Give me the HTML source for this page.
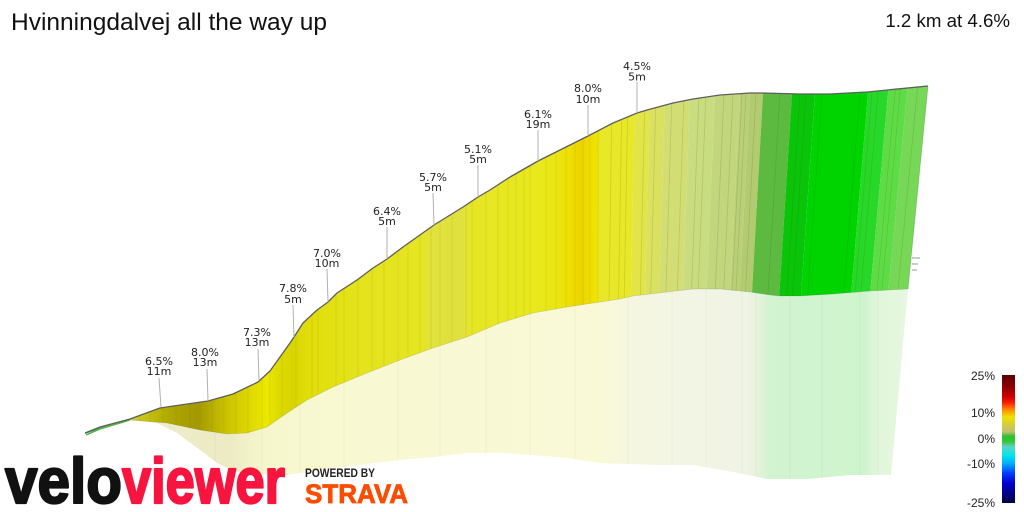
<!DOCTYPE html>
<html>
<head>
<meta charset="utf-8">
<style>
html,body{margin:0;padding:0;background:#fff;}
body{width:1024px;height:512px;overflow:hidden;}
svg{display:block;}
</style>
</head>
<body>
<svg width="1024" height="512" viewBox="0 0 1024 512" xmlns="http://www.w3.org/2000/svg">
<defs>
  <linearGradient id="gf" gradientUnits="userSpaceOnUse" x1="0" y1="0" x2="1024" y2="0">
    <stop offset="0" stop-color="#3c9c3c"/>
    <stop offset="0.0977" stop-color="#50a848"/>
    <stop offset="0.1152" stop-color="#b8c050"/>
    <stop offset="0.127" stop-color="#ccc83c"/>
    <stop offset="0.1416" stop-color="#c8c418"/>
    <stop offset="0.1543" stop-color="#bcb600"/>
    <stop offset="0.166" stop-color="#b0a800"/>
    <stop offset="0.1807" stop-color="#a89e00"/>
    <stop offset="0.1924" stop-color="#a49800"/>
    <stop offset="0.2021" stop-color="#b0a600"/>
    <stop offset="0.2129" stop-color="#c0b800"/>
    <stop offset="0.2266" stop-color="#d0c800"/>
    <stop offset="0.2402" stop-color="#dcd400"/>
    <stop offset="0.252" stop-color="#e6e000"/>
    <stop offset="0.2617" stop-color="#ebe800"/>
    <stop offset="0.2715" stop-color="#dedb00"/>
    <stop offset="0.2852" stop-color="#d8d400"/>
    <stop offset="0.2979" stop-color="#e0dc08"/>
    <stop offset="0.3174" stop-color="#e2e010"/>
    <stop offset="0.3516" stop-color="#e4e31c"/>
    <stop offset="0.4102" stop-color="#e6e522"/>
    <stop offset="0.4219" stop-color="#e2e23c"/>
    <stop offset="0.4512" stop-color="#e0e03e"/>
    <stop offset="0.4609" stop-color="#e6e626"/>
    <stop offset="0.5273" stop-color="#e8e81c"/>
    <stop offset="0.5469" stop-color="#ece410"/>
    <stop offset="0.5586" stop-color="#eedc00"/>
    <stop offset="0.5684" stop-color="#ecd400"/>
    <stop offset="0.5801" stop-color="#efe200"/>
    <stop offset="0.5908" stop-color="#eae822"/>
    <stop offset="1" stop-color="#eae822"/>
  </linearGradient>
  <linearGradient id="gp" gradientUnits="userSpaceOnUse" x1="0" y1="0" x2="1024" y2="0">
    <stop offset="0" stop-color="#e8f4e0"/>
    <stop offset="0.1172" stop-color="#eef2d8"/>
    <stop offset="0.1367" stop-color="#eeeccc"/>
    <stop offset="0.2246" stop-color="#ecebc4"/>
    <stop offset="0.2559" stop-color="#f6f6cc"/>
    <stop offset="0.293" stop-color="#f8f8d0"/>
    <stop offset="0.5859" stop-color="#f9f9d8"/>
    <stop offset="0.625" stop-color="#f4f6e2"/>
    <stop offset="0.7275" stop-color="#f0f4e4"/>
    <stop offset="0.7402" stop-color="#e6f2dc"/>
    <stop offset="0.752" stop-color="#d2f3d0"/>
    <stop offset="0.8447" stop-color="#cef4ce"/>
    <stop offset="0.8545" stop-color="#e0f6da"/>
    <stop offset="0.8887" stop-color="#e6f8e0"/>
    <stop offset="1" stop-color="#e6f8e0"/>
  </linearGradient>
  <linearGradient id="gl" x1="0" y1="0" x2="0" y2="1">
    <stop offset="0" stop-color="#5a0000"/>
    <stop offset="0.094" stop-color="#900000"/>
    <stop offset="0.172" stop-color="#d00000"/>
    <stop offset="0.219" stop-color="#ff2000"/>
    <stop offset="0.273" stop-color="#ff9000"/>
    <stop offset="0.328" stop-color="#f0e000"/>
    <stop offset="0.39" stop-color="#d4cc40"/>
    <stop offset="0.445" stop-color="#c0c070"/>
    <stop offset="0.477" stop-color="#30c030"/>
    <stop offset="0.516" stop-color="#30c830"/>
    <stop offset="0.5625" stop-color="#60d0c8"/>
    <stop offset="0.625" stop-color="#00e8e8"/>
    <stop offset="0.6875" stop-color="#00b0ff"/>
    <stop offset="0.766" stop-color="#0040ff"/>
    <stop offset="0.844" stop-color="#0000d0"/>
    <stop offset="1" stop-color="#000040"/>
  </linearGradient>
  <clipPath id="cf">
    <polygon points="85,433 100,427 130,419 160,408 187,404 208,401 233,394 258,382 270,371 280,357 290,343 294,337 303,323 317,310 328,302 337,293 357,280 373,268 387,259 403,247 434,225 463,207 478,197 490,190 510,177 538,161 560,150 588,136 613,123 637,113 647,110 673,103 693,99 720,95 750,93 763,93 800,94 830,94 867,92 928,86 908,289 870,291 833,294 800,296 780,296 770,295 750,292 720,289 693,289 667,292 633,296 620,299 600,302 567,307 533,313 500,323 467,337 433,348 400,360 367,373 333,387 307,400 287,413 267,427 247,433 227,434 200,430 167,423 130,420 100,429 85,434"/>
  </clipPath>
  <clipPath id="cp">
    <polygon points="125,419 130,420 167,423 200,430 227,434 247,433 267,427 287,413 307,400 333,387 367,373 400,360 433,348 467,337 500,323 533,313 567,307 600,302 620,299 633,296 667,292 693,289 720,289 750,292 770,295 780,296 800,296 833,294 870,291 908,289 891,475 850,475 807,479 767,479 733,472 693,465 657,465 600,463 567,458 533,455 500,453 467,453 433,457 400,460 333,468 287,475 260,474 233,471 217,463 200,450 177,433 157,423 130,420"/>
  </clipPath>
</defs>

<!-- pale floor -->
<g clip-path="url(#cp)">
  <rect x="0" y="250" width="1024" height="262" fill="url(#gp)"/>
  <g stroke="rgba(0,0,0,0.045)" stroke-width="0.8">
    <line x1="170" y1="280" x2="170" y2="500"/><line x1="215" y1="280" x2="215" y2="500"/>
    <line x1="262" y1="280" x2="262" y2="500"/><line x1="300" y1="280" x2="300" y2="500"/>
    <line x1="344" y1="280" x2="344" y2="500"/><line x1="398" y1="280" x2="398" y2="500"/>
    <line x1="440" y1="280" x2="440" y2="500"/><line x1="486" y1="280" x2="486" y2="500"/>
    <line x1="530" y1="280" x2="530" y2="500"/><line x1="575" y1="280" x2="575" y2="500"/>
    <line x1="628" y1="280" x2="628" y2="500"/><line x1="672" y1="280" x2="672" y2="500"/>
    <line x1="706" y1="280" x2="706" y2="500"/><line x1="742" y1="280" x2="742" y2="500"/>
    <line x1="756" y1="280" x2="756" y2="500"/><line x1="790" y1="280" x2="790" y2="500"/>
    <line x1="822" y1="280" x2="822" y2="500"/><line x1="860" y1="280" x2="860" y2="500"/>
    <line x1="878" y1="280" x2="878" y2="500"/>
  </g>
</g>

<!-- colored face -->
<g clip-path="url(#cf)">
  <rect x="0" y="60" width="606" height="400" fill="url(#gf)"/>
  <polygon points="600.4,60 635.67,60 630.17,330 597.4,330" fill="#e8e828"/>
  <polygon points="635.67,60 650.81,60 644.21,330 630.17,330" fill="#e2e448"/>
  <polygon points="650.81,60 665.94,60 658.24,330 644.21,330" fill="#dae060"/>
  <polygon points="665.94,60 691.16,60 681.63,330 658.24,330" fill="#d2de74"/>
  <polygon points="691.16,60 716.39,60 705.03,330 681.63,330" fill="#cadc80"/>
  <polygon points="716.39,60 741.61,60 728.42,330 705.03,330" fill="#c2d67e"/>
  <polygon points="741.61,60 751.70,60 737.77,330 728.42,330" fill="#bad078"/>
  <polygon points="751.70,60 764.82,60 749.94,330 737.77,330" fill="#b2ca70"/>
  <polygon points="764.82,60 794.08,60 777.07,330 749.94,330" fill="#5cba40"/>
  <polygon points="794.08,60 817.28,60 798.59,330 777.07,330" fill="#0ac40a"/>
  <polygon points="817.28,60 870.76,60 848.18,330 798.59,330" fill="#00d400"/>
  <polygon points="870.76,60 890.94,60 866.89,330 848.18,330" fill="#28d828"/>
  <polygon points="890.94,60 910.11,60 884.67,330 866.89,330" fill="#5edc46"/>
  <polygon points="910.11,60 943.40,60 915.55,330 884.67,330" fill="#76d856"/>
  <g stroke="rgba(90,90,0,0.13)" stroke-width="0.8">
    <line x1="140" y1="60" x2="140" y2="460"/><line x1="150" y1="60" x2="150" y2="460"/>
    <line x1="163" y1="60" x2="163" y2="460"/><line x1="176" y1="60" x2="176" y2="460"/>
    <line x1="190" y1="60" x2="190" y2="460"/><line x1="200" y1="60" x2="200" y2="460"/>
    <line x1="212" y1="60" x2="212" y2="460"/><line x1="224" y1="60" x2="224" y2="460"/>
    <line x1="236" y1="60" x2="236" y2="460"/><line x1="248" y1="60" x2="248" y2="460"/>
    <line x1="262" y1="60" x2="262" y2="460"/><line x1="270" y1="60" x2="270" y2="460"/>
    <line x1="282" y1="60" x2="282" y2="460"/><line x1="296" y1="60" x2="296" y2="460"/>
    <line x1="312" y1="60" x2="312" y2="460"/><line x1="318" y1="60" x2="318" y2="460"/>
    <line x1="336" y1="60" x2="336" y2="460"/><line x1="344" y1="60" x2="344" y2="460"/>
    <line x1="358" y1="60" x2="358" y2="460"/><line x1="372" y1="60" x2="372" y2="460"/>
    <line x1="384" y1="60" x2="384" y2="460"/><line x1="398" y1="60" x2="398" y2="460"/>
    <line x1="408" y1="60" x2="408" y2="460"/><line x1="420" y1="60" x2="420" y2="460"/>
    <line x1="431" y1="60" x2="431" y2="460"/><line x1="440" y1="60" x2="440" y2="460"/>
    <line x1="452" y1="60" x2="452" y2="460"/><line x1="466" y1="60" x2="466" y2="460"/>
    <line x1="472" y1="60" x2="472" y2="460"/><line x1="486" y1="60" x2="486" y2="460"/>
    <line x1="498" y1="60" x2="498" y2="460"/><line x1="508" y1="60" x2="508" y2="460"/>
    <line x1="516" y1="60" x2="516" y2="460"/><line x1="524" y1="60" x2="524" y2="460"/>
    <line x1="530" y1="60" x2="530" y2="460"/><line x1="546" y1="60" x2="546" y2="460"/>
    <line x1="556" y1="60" x2="556" y2="460"/><line x1="566" y1="60" x2="566" y2="460"/>
    <line x1="575" y1="60" x2="575" y2="460"/><line x1="583" y1="60" x2="583" y2="460"/>
    <line x1="590" y1="60" x2="590" y2="460"/><line x1="598" y1="60" x2="598" y2="460"/>
  </g>
  <g stroke="rgba(60,80,0,0.16)" stroke-width="0.8">
    <line x1="612.47" y1="60" x2="608.65" y2="330"/>
    <line x1="622.56" y1="60" x2="618.01" y2="330"/>
    <line x1="628.61" y1="60" x2="623.62" y2="330"/>
    <line x1="645.76" y1="60" x2="639.53" y2="330"/>
    <line x1="656.86" y1="60" x2="649.82" y2="330"/>
    <line x1="673.0" y1="60" x2="664.79" y2="330"/>
    <line x1="685.11" y1="60" x2="676.02" y2="330"/>
    <line x1="700.25" y1="60" x2="690.06" y2="330"/>
    <line x1="707.31" y1="60" x2="696.6" y2="330"/>
    <line x1="725.47" y1="60" x2="713.45" y2="330"/>
    <line x1="734.55" y1="60" x2="721.87" y2="330"/>
    <line x1="743.63" y1="60" x2="730.29" y2="330"/>
    <line x1="747.67" y1="60" x2="734.03" y2="330"/>
    <line x1="757.76" y1="60" x2="743.39" y2="330"/>
    <line x1="781.97" y1="60" x2="765.84" y2="330"/>
    <line x1="802.15" y1="60" x2="784.56" y2="330"/>
    <line x1="808.2" y1="60" x2="790.17" y2="330"/>
    <line x1="824.35" y1="60" x2="805.14" y2="330"/>
    <line x1="862.69" y1="60" x2="840.7" y2="330"/>
    <line x1="874.8" y1="60" x2="851.92" y2="330"/>
    <line x1="880.85" y1="60" x2="857.54" y2="330"/>
    <line x1="898.0" y1="60" x2="873.44" y2="330"/>
    <line x1="903.05" y1="60" x2="878.12" y2="330"/>
    <line x1="920.2" y1="60" x2="894.03" y2="330"/>
  </g>
</g>
<!-- face outline edges -->
<polyline points="908,289 870,291 833,294 800,296 780,296 770,295 750,292 720,289 693,289 667,292 633,296 620,299 600,302 567,307 533,313 500,323 467,337 433,348 400,360 367,373 333,387 307,400 287,413 267,427 247,433 227,434 200,430 167,423 130,420" fill="none" stroke="rgba(0,0,0,0.12)" stroke-width="0.8"/>
<line x1="928" y1="86" x2="908" y2="289" stroke="rgba(0,80,0,0.25)" stroke-width="0.8"/>

<!-- start green highlight -->
<polyline points="86,435 100,429 130,420" fill="none" stroke="#48b840" stroke-width="1.4"/>
<!-- top line -->
<polyline points="85,433 100,427 130,419 160,408 187,404 208,401 233,394 258,382 270,371 280,357 290,343 294,337 303,323 317,310 328,302 337,293 357,280 373,268 387,259 403,247 434,225 463,207 478,197 490,190 510,177 538,161 560,150 588,136 613,123 637,113 647,110 673,103 693,99 720,95 750,93 763,93 800,94 830,94 867,92 928,86" fill="none" stroke="#5e5e5e" stroke-width="1.3" stroke-linejoin="round"/>

<!-- small marks -->
<g stroke="#bbbbbb" stroke-width="1.5">
  <line x1="912" y1="258" x2="920" y2="258"/>
  <line x1="912" y1="264" x2="918" y2="264"/>
  <line x1="912" y1="270" x2="917" y2="270"/>
</g>

<!-- leader lines -->
<g stroke="#b0b0b0" stroke-width="1">
  <line x1="159" y1="378" x2="161" y2="407"/>
  <line x1="207" y1="369" x2="208" y2="401"/>
  <line x1="258" y1="349" x2="259" y2="380"/>
  <line x1="293" y1="305" x2="294" y2="337"/>
  <line x1="327" y1="269" x2="328" y2="302"/>
  <line x1="387" y1="227" x2="387" y2="259"/>
  <line x1="433" y1="193" x2="434" y2="225"/>
  <line x1="478" y1="165" x2="478" y2="197"/>
  <line x1="538" y1="130" x2="538" y2="161"/>
  <line x1="588" y1="105" x2="588" y2="136"/>
  <line x1="637" y1="82" x2="637" y2="113"/>
</g>

<!-- labels -->
<g font-family="'DejaVu Sans', 'Liberation Sans', sans-serif" font-size="11" fill="#222" text-anchor="middle">
  <text x="159" y="365">6.5%</text><text x="159" y="375">11m</text>
  <text x="205" y="356">8.0%</text><text x="205" y="366">13m</text>
  <text x="257" y="336">7.3%</text><text x="257" y="346">13m</text>
  <text x="293" y="292">7.8%</text><text x="293" y="303">5m</text>
  <text x="327" y="257">7.0%</text><text x="327" y="267">10m</text>
  <text x="387" y="215">6.4%</text><text x="387" y="225">5m</text>
  <text x="433" y="181">5.7%</text><text x="433" y="191">5m</text>
  <text x="478" y="153">5.1%</text><text x="478" y="163">5m</text>
  <text x="538" y="118">6.1%</text><text x="538" y="128">19m</text>
  <text x="588" y="92">8.0%</text><text x="588" y="103">10m</text>
  <text x="637" y="70">4.5%</text><text x="637" y="80.5">5m</text>
</g>

<!-- title -->
<text x="11" y="30" font-family="'Liberation Sans', Arial, sans-serif" font-size="24.5" fill="#111">Hvinningdalvej all the way up</text>
<text x="1010" y="27" text-anchor="end" font-family="'Liberation Sans', Arial, sans-serif" font-size="18.7" fill="#111">1.2 km at 4.6%</text>

<!-- legend -->
<rect x="1002" y="375" width="13" height="128" fill="url(#gl)"/>
<g font-family="'Liberation Sans', Arial, sans-serif" font-size="12" fill="#222" text-anchor="end">
  <text x="995" y="380">25%</text>
  <text x="995" y="417">10%</text>
  <text x="995" y="443">0%</text>
  <text x="995" y="468">-10%</text>
  <text x="995" y="507">-25%</text>
</g>

<!-- logos -->
<text x="5" y="503" font-family="'Liberation Sans', Arial, sans-serif" font-weight="bold" font-size="64" fill="#111" stroke="#111" stroke-width="2.2" stroke-linejoin="round" textLength="117" lengthAdjust="spacingAndGlyphs">velo</text>
<text x="122" y="503" font-family="'Liberation Sans', Arial, sans-serif" font-weight="bold" font-size="64" fill="#f7143f" stroke="#f7143f" stroke-width="2.2" stroke-linejoin="round" textLength="163" lengthAdjust="spacingAndGlyphs">viewer</text>
<text x="305" y="477" font-family="'Liberation Sans', Arial, sans-serif" font-weight="bold" font-size="11.5" fill="#222" textLength="70" lengthAdjust="spacingAndGlyphs">POWERED BY</text>
<text x="305" y="503" font-family="'Liberation Sans', Arial, sans-serif" font-weight="bold" font-size="27" fill="#fc4c02" stroke="#fc4c02" stroke-width="0.8" textLength="103" lengthAdjust="spacingAndGlyphs">STRAVA</text>
</svg>
</body>
</html>
